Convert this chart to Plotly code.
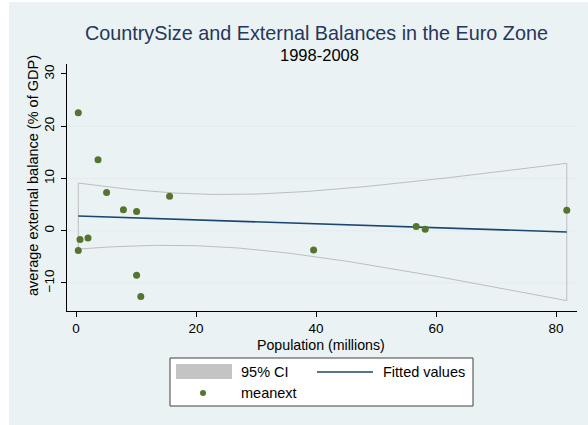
import numpy as np
import plotly.graph_objects as go

# Euro-zone members, 1998-2008 averages
population = [0.38, 3.67, 5.1, 7.9, 10.1, 15.6, 0.67, 2.0, 0.38, 10.1, 10.8, 39.6, 56.7, 58.2, 81.8]
meanext = [22.6, 13.6, 7.3, 4.0, 3.7, 6.6, -1.7, -1.4, -3.8, -8.5, -12.6, -3.7, 0.8, 0.3, 3.9]

x_ticks = [0, 20, 40, 60, 80]
y_ticks = [-10, 0, 10, 20, 30]
grid_values = [-10, 0, 10, 20]

T_CRIT = 2.160  # t(0.975, df = n - 2)

# Linear fit with 95% confidence interval of the mean prediction
x = np.asarray(population)
y = np.asarray(meanext)
n = len(x)
slope, intercept = np.polyfit(x, y, 1)
resid = y - (intercept + slope * x)
s = np.sqrt((resid ** 2).sum() / (n - 2))
sxx = ((x - x.mean()) ** 2).sum()
grid = np.linspace(x.min(), x.max(), 100)
fit = intercept + slope * grid
half = T_CRIT * s * np.sqrt(1.0 / n + (grid - x.mean()) ** 2 / sxx)
upper, lower = fit + half, fit - half

NAVY = "#1A476F"
GREEN = "#55752F"
CI_GRAY = "#BEBEBE"
BG = "#EAF2F3"
FONT = "Liberation Sans, Arial, sans-serif"

W, H = 588, 425
L, T, R, B = 67, 64, 577, 311


def px(v):
    return (v - L) / (R - L)


def py(v):
    return (B - v) / (B - T)


fig = go.Figure()

fig.add_trace(go.Scatter(
    x=np.concatenate([grid, grid[::-1], grid[:1]]),
    y=np.concatenate([upper, lower[::-1], upper[:1]]),
    mode="lines", line=dict(color=CI_GRAY, width=1),
    hoverinfo="skip", showlegend=False,
))
fig.add_trace(go.Scatter(
    x=grid, y=fit, mode="lines", line=dict(color=NAVY, width=1.6),
    showlegend=False,
))
fig.add_trace(go.Scatter(
    x=population, y=meanext, mode="markers",
    marker=dict(color=GREEN, size=7), showlegend=False,
))

shapes = [
    # graph region background
    dict(type="rect", xref="paper", yref="paper", layer="below",
         x0=px(9), x1=px(W), y0=py(H), y1=py(2),
         fillcolor=BG, line=dict(width=0)),
]
for g in grid_values:
    shapes.append(dict(type="line", xref="paper", yref="y", layer="below",
                       x0=0, x1=1, y0=g, y1=g,
                       line=dict(color="#E2ECEE", width=1)))

# legend
shapes += [
    dict(type="rect", xref="paper", yref="paper",
         x0=px(170), x1=px(473), y0=py(406), y1=py(358),
         fillcolor="white", line=dict(color="#404040", width=1)),
    dict(type="rect", xref="paper", yref="paper",
         x0=px(176), x1=px(232), y0=py(379), y1=py(364),
         fillcolor="#C4C4C4", line=dict(width=0)),
    dict(type="line", xref="paper", yref="paper",
         x0=px(317), x1=px(373), y0=py(372), y1=py(372),
         line=dict(color=NAVY, width=1.6)),
    dict(type="circle", xref="paper", yref="paper",
         x0=px(200), x1=px(206), y0=py(396), y1=py(390),
         fillcolor=GREEN, line=dict(width=0)),
]


def label(text, xp, yp, size, color="black", anchor="center", angle=0):
    return dict(text=text, xref="paper", yref="paper", x=px(xp), y=py(yp),
                xanchor=anchor, yanchor="middle", showarrow=False,
                textangle=angle, font=dict(family=FONT, size=size, color=color))


annotations = [
    label("CountrySize and External Balances in the Euro Zone", 316, 33, 19.8, "#27365A"),
    label("1998-2008", 319, 55, 16.5),
    label("Population (millions)", 321, 345, 14.2),
    label("average external balance (% of GDP)", 33, 176, 14.5, angle=-90),
    label("95% CI", 239, 372, 14.5, anchor="left"),
    label("Fitted values", 381, 372, 14.5, anchor="left"),
    label("meanext", 239, 393, 14.5, anchor="left"),
]

axis_common = dict(
    showline=True, linecolor="black", linewidth=1,
    ticks="outside", ticklen=5, tickcolor="black", tickwidth=1,
    showgrid=False, zeroline=False,
    tickfont=dict(family=FONT, size=13.5, color="black"),
)

fig.update_layout(
    width=W, height=H,
    margin=dict(l=L, r=W - R, t=T, b=H - B),
    paper_bgcolor="white", plot_bgcolor="white",
    xaxis=dict(range=[-1.5, 83.5], tickvals=x_ticks, ticklabelstandoff=0, **axis_common),
    yaxis=dict(range=[-15.36, 31.91], tickvals=y_ticks, tickangle=-90,
               ticklabelstandoff=2, **axis_common),
    shapes=shapes, annotations=annotations,
    showlegend=False,
)

fig.write_html("out.html")
